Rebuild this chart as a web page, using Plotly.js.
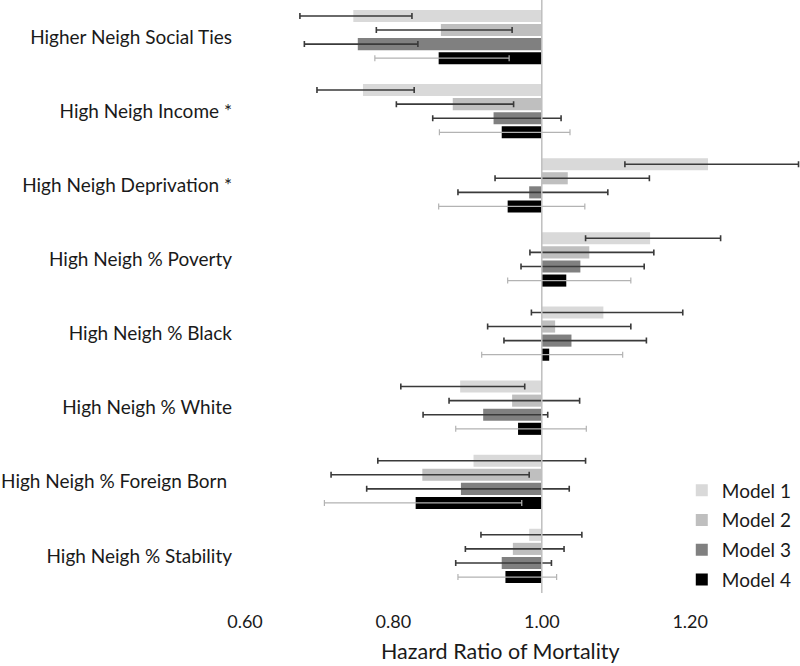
<!DOCTYPE html>
<html>
<head>
<meta charset="utf-8">
<script src="https://cdn.plot.ly/plotly-3.0.1.min.js"></script>
<style>html,body{margin:0;padding:0;background:#fff;}#chart{width:800px;height:666px;}</style>
</head>
<body>
<div id="chart"></div>
<script>
// Categories (top to bottom)
const categories = [
  "Higher Neigh Social Ties",
  "High Neigh Income *",
  "High Neigh Deprivation *",
  "High Neigh % Poverty",
  "High Neigh % Black",
  "High Neigh % White",
  "High Neigh % Foreign Born\u00a0",
  "High Neigh % Stability"
];
const modelNames = ["Model 1", "Model 2", "Model 3", "Model 4"];

// Hazard ratios per model (same order as categories)
const hrModel1 = [0.746, 0.759, 1.224, 1.146, 1.083, 0.890, 0.908, 0.983];
const hrModel2 = [0.864, 0.880, 1.035, 1.064, 1.018, 0.960, 0.839, 0.961];
const hrModel3 = [0.752, 0.935, 0.983, 1.052, 1.040, 0.921, 0.891, 0.946];
const hrModel4 = [0.861, 0.946, 0.954, 1.033, 1.010, 0.968, 0.830, 0.951];

// Lower 95% CI
const loModel1 = [0.674, 0.697, 1.112, 1.059, 0.986, 0.810, 0.779, 0.918];
const loModel2 = [0.777, 0.804, 0.937, 0.984, 0.927, 0.875, 0.716, 0.897];
const loModel3 = [0.680, 0.853, 0.887, 0.972, 0.949, 0.840, 0.764, 0.884];
const loModel4 = [0.775, 0.862, 0.861, 0.954, 0.919, 0.884, 0.707, 0.887];

// Upper 95% CI
const hiModel1 = [0.825, 0.828, 1.346, 1.241, 1.190, 0.977, 1.059, 1.054];
const hiModel2 = [0.960, 0.962, 1.145, 1.151, 1.120, 1.051, 0.983, 1.030];
const hiModel3 = [0.833, 1.026, 1.089, 1.138, 1.141, 1.008, 1.037, 1.013];
const hiModel4 = [0.956, 1.038, 1.058, 1.120, 1.109, 1.060, 0.973, 1.020];

const xTickVals = [0.6, 0.8, 1.0, 1.2];
const baseline = 1.0;

const hrAll = [hrModel1, hrModel2, hrModel3, hrModel4];
const loAll = [loModel1, loModel2, loModel3, loModel4];
const hiAll = [hiModel1, hiModel2, hiModel3, hiModel4];

const barColors = ["#d9d9d9", "#bfbfbf", "#808080", "#000000"];
const errColors = ["#3a3a3a", "#3a3a3a", "#3a3a3a", "#b3b3b3"];
const errWidths = [1.6, 1.6, 1.6, 1.2];

const FONT = "Lato, 'Open Sans', sans-serif";

const traces = hrAll.map((hr, k) => ({
  type: "bar",
  orientation: "h",
  name: modelNames[k],
  legendgroup: "g" + k,
  y: categories,
  x: hr.map(v => v - baseline),
  base: baseline,
  marker: {color: barColors[k], line: {width: 0}},
  error_x: {
    type: "data",
    symmetric: false,
    array: hiAll[k].map((h, i) => h - hr[i]),
    arrayminus: loAll[k].map((l, i) => hr[i] - l),
    color: errColors[k],
    thickness: errWidths[k],
    width: 3
  },
  hoverinfo: "skip"
}));

const layout = {
  width: 800,
  height: 666,
  margin: {l: 245, r: 0, t: 0, b: 73},
  paper_bgcolor: "#ffffff",
  plot_bgcolor: "#ffffff",
  barmode: "group",
  bargap: 0.24,
  bargroupgap: 0.14,
  showlegend: true,
  font: {family: FONT, color: "#1a1a1a"},
  xaxis: {
    range: [0.6, 1.348],
    tickvals: xTickVals,
    tickformat: ".2f",
    showgrid: false,
    zeroline: false,
    showline: false,
    ticks: "",
    ticklabelstandoff: 16,
    tickfont: {family: FONT, size: 18, color: "#1a1a1a"}
  },
  yaxis: {
    type: "category",
    autorange: "reversed",
    showgrid: false,
    zeroline: false,
    showline: false,
    ticks: "",
    ticklabelstandoff: 12,
    tickfont: {family: FONT, size: 19, color: "#1a1a1a"}
  },
  legend: {
    x: 0.787,
    xanchor: "left",
    y: 0.205,
    yanchor: "top",
    traceorder: "grouped",
    tracegroupgap: 2,
    bgcolor: "rgba(0,0,0,0)",
    font: {family: FONT, size: 19, color: "#1a1a1a"}
  },
  shapes: [{
    type: "line",
    xref: "x", yref: "paper",
    x0: baseline, x1: baseline, y0: 0, y1: 1,
    line: {color: "#bfbfbf", width: 1.5},
    layer: "above"
  }],
  annotations: [{
    text: "Hazard Ratio of Mortality",
    xref: "paper", yref: "paper",
    x: (500 - 245) / 555, y: -0.098,
    xanchor: "center", yanchor: "middle",
    showarrow: false,
    font: {family: FONT, size: 21.5, color: "#1a1a1a"}
  }]
};

Plotly.newPlot("chart", traces, layout, {displayModeBar: false, staticPlot: true});
</script>
</body>
</html>
